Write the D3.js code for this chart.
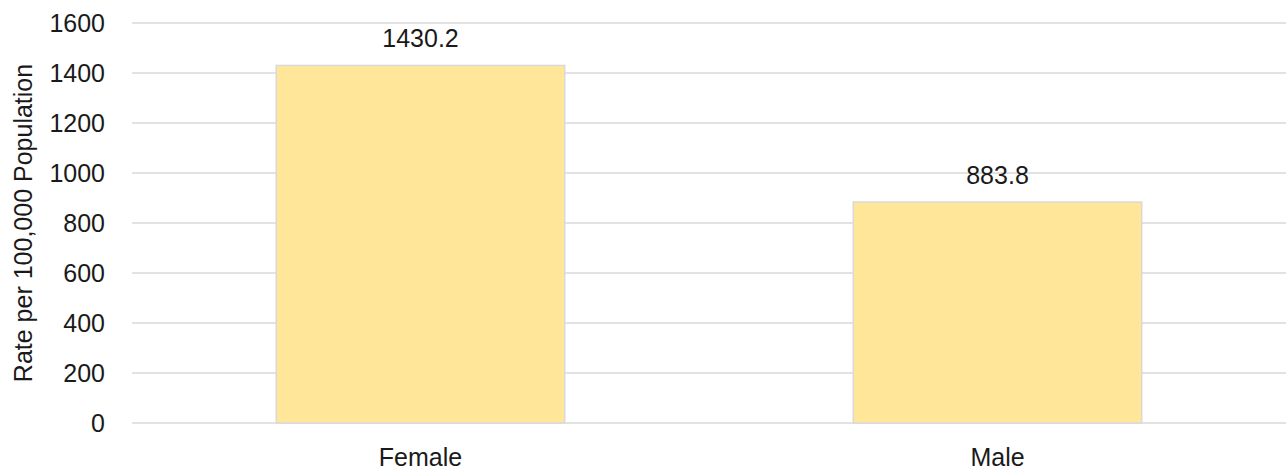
<!DOCTYPE html>
<html>
<head>
<meta charset="utf-8">
<script src="https://cdn.jsdelivr.net/npm/d3@7"></script>
<style>
  html, body { margin: 0; padding: 0; background: #fff; }
  svg { display: block; }
  text { font-family: "Liberation Sans", Arial, sans-serif; fill: #1a1a1a; }
</style>
</head>
<body>
<svg id="chart" width="1286" height="472"></svg>
<script>
const categories = ["Female", "Male"];
const values = [1430.2, 883.8];
const yTicks = [0, 200, 400, 600, 800, 1000, 1200, 1400, 1600];
const yTitle = "Rate per 100,000 Population";

const svg = d3.select("#chart");
const W = 1286, H = 472;
const m = { left: 132, right: 0, top: 23, bottom: 49 };

const x = d3.scaleBand().domain(categories).range([m.left, W - m.right]).paddingInner(0.5).paddingOuter(0.25);
const y = d3.scaleLinear().domain([0, 1600]).range([H - m.bottom, m.top]);

// gridlines
const yAxis = d3.axisLeft(y).tickValues(yTicks).tickSize(0).tickPadding(27).tickFormat(d3.format("d"));
const gy = svg.append("g").attr("transform", `translate(${m.left},0)`).call(yAxis);
gy.select(".domain").remove();
gy.selectAll("text").style("font-size", "25px").attr("fill", "#1a1a1a");

svg.append("g").selectAll("line").data(yTicks).join("line")
  .attr("x1", m.left).attr("x2", W - m.right)
  .attr("y1", d => y(d)).attr("y2", d => y(d))
  .attr("stroke", "#d9d9d9").attr("stroke-width", 1.5);

// bars
svg.append("g").selectAll("rect").data(categories).join("rect")
  .attr("x", d => x(d)).attr("width", x.bandwidth())
  .attr("y", (d, i) => y(values[i])).attr("height", (d, i) => y(0) - y(values[i]))
  .attr("fill", "#ffe699").attr("stroke", "#d9d9d9").attr("stroke-width", 1.5);

// data labels
svg.append("g").selectAll("text").data(categories).join("text")
  .attr("x", d => x(d) + x.bandwidth() / 2)
  .attr("y", (d, i) => y(values[i]) - 18)
  .attr("text-anchor", "middle").style("font-size", "25px")
  .text((d, i) => values[i].toFixed(1));

// x axis labels
const xAxis = d3.axisBottom(x).tickSize(0).tickPadding(0);
const gx = svg.append("g").attr("transform", `translate(0,${y(0)})`).call(xAxis);
gx.select(".domain").remove();
gx.selectAll("text").style("font-size", "25px").attr("fill", "#1a1a1a").attr("dy", null).attr("y", 43);

// y title
svg.append("text")
  .attr("transform", `translate(32,${(y(0) + y(1600)) / 2}) rotate(-90)`)
  .attr("text-anchor", "middle").style("font-size", "25px")
  .text(yTitle);
</script>
</body>
</html>
